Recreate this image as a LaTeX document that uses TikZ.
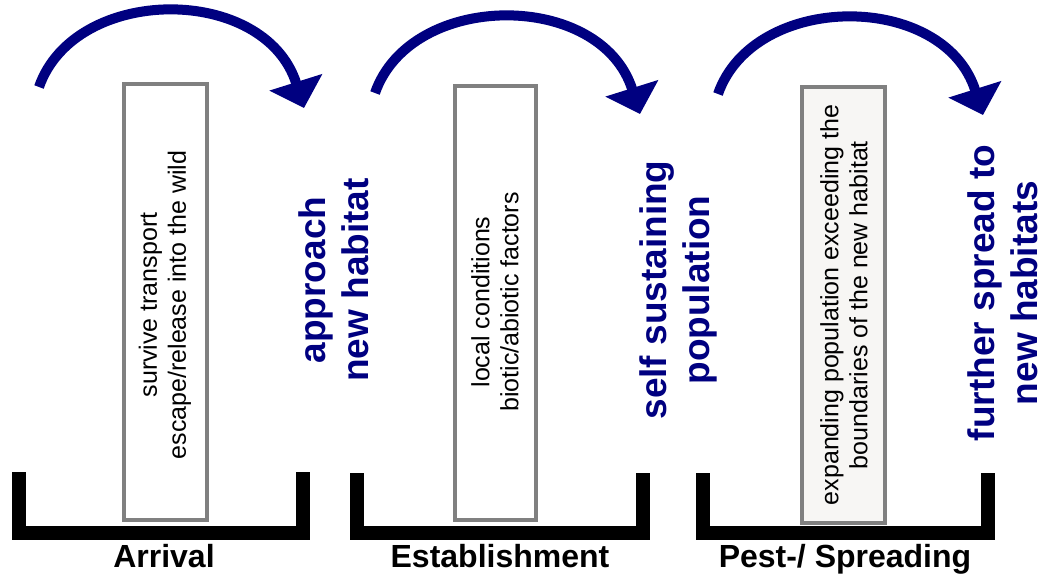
\documentclass[tikz,border=0pt]{standalone}
\usepackage{fontspec}
\setmainfont{Liberation Sans}
\usetikzlibrary{arrows.meta}
\definecolor{navy}{RGB}{0,0,128}
\definecolor{framegray}{RGB}{128,128,128}
\definecolor{paper}{RGB}{247,246,244}

\begin{document}
\begin{tikzpicture}[x=1pt,y=-1pt,
    curl/.style={draw=navy,line width=10pt,-{Triangle[length=27pt,width=54pt]}},
    stagebox/.style={draw=framegray,line width=4pt},
    tray/.style={draw=black,line width=14pt},
    note/.style={rotate=90,align=center,font=\fontsize{25}{29}\selectfont},
    outcome/.style={rotate=90,align=center,text=navy,font=\fontsize{37}{43}\selectfont\bfseries},
    phase/.style={anchor=base,font=\fontsize{32}{38}\selectfont\bfseries}]
    \useasboundingbox (0,0) rectangle (1044,578);

    % curved arrows over each stage
    \draw[curl] (39,87) .. controls (75,-16) and (265,-16) .. (304,108);
    \draw[curl] (375,93) .. controls (411,-10) and (601,-10) .. (640,114);
    \draw[curl] (718,94) .. controls (754,-9) and (944,-9) .. (983,115);

    % boxes
    \draw[stagebox] (124,84) rectangle (207,520);
    \draw[stagebox] (455,86) rectangle (536,520);
    \draw[stagebox,fill=paper] (802,87) rectangle (885,523);

    % trays
    \draw[tray] (19,472) -- (19,533) -- (303,533) -- (303,472);
    \draw[tray] (357,473) -- (357,533) -- (643,533) -- (643,473);
    \draw[tray] (703,473) -- (703,533) -- (988,533) -- (988,473);

    \node[note] (arrivalnote) at (165,305) {survive transport\\escape/release into the wild};
    \node[note] (establishnote) at (495,302) {local conditions\\biotic/abiotic factors};
    \node[note] (spreadnote) at (844,305) {expanding population exceeding the\\boundaries of the new habitat};

    \node[outcome] (approach) at (334,280) {approach\\new habitat};
    \node[outcome] (selfsust) at (678,290) {self sustaining\\population};
    \node[outcome] (further) at (1003,293) {further spread to\\new habitats};

    \node[phase] (arrival) at (164,567) {Arrival};
    \node[phase] (establish) at (500,567) {Establishment};
    \node[phase] (pest) at (845,567) {Pest-/ Spreading};
\end{tikzpicture}
\end{document}
